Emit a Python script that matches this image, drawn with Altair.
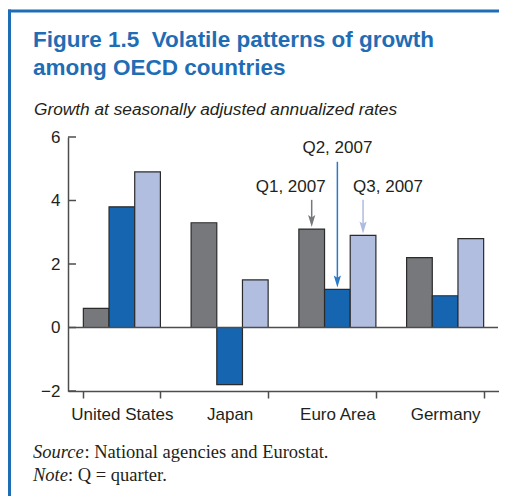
import altair as alt
import pandas as pd

# ---------------- data ----------------
countries = ["United States", "Japan", "Euro Area", "Germany"]
quarters = ["Q1, 2007", "Q2, 2007", "Q3, 2007"]
q1_values = [0.6, 3.3, 3.1, 2.2]
q2_values = [3.8, -1.8, 1.2, 1.0]
q3_values = [4.9, 1.5, 2.9, 2.8]
y_ticks = [-2, 0, 2, 4, 6]

bar_colors = ["#77787b", "#1565b0", "#b1bee0"]
arrow_colors = ["#77787b", "#2a7ac6", "#aebbe0"]

annot_country = "Euro Area"
annot_label_y = [4.26, 5.49, 4.26]
annot_arrow_top = [4.02, 5.22, 4.02]
annot_text_dx = [-21, 0, 25]
annot_arrow_dx = [0, 0, 3]

title_lines = ["Figure 1.5\u00a0 Volatile patterns of growth", "among OECD countries"]
subtitle = "Growth at seasonally adjusted annualized rates"
source_label = "Source"
source_text = ": National agencies and Eurostat."
note_label = "Note"
note_text = ": Q = quarter."

# ---------------- build ----------------
rows = []
for i, c in enumerate(countries):
    for q, vals in zip(quarters, [q1_values, q2_values, q3_values]):
        rows.append({"country": c, "quarter": q, "value": vals[i]})
df = pd.DataFrame(rows)

W, H = 431, 254
FONT = "Liberation Sans"
SERIF = "Liberation Serif"
AX = "#4d4d4f"
TXT = "#231f20"
BLUE = "#1f6db5"

x_scale = alt.Scale(paddingInner=0.285, paddingOuter=0.1425)
xo_scale = alt.Scale(paddingInner=0, paddingOuter=0)
y_scale = alt.Scale(domain=[-2, 6], nice=False)

x_axis = alt.Axis(
    title=None, labelAngle=0, labelFont=FONT, labelFontSize=17,
    labelColor=TXT, tickBand="extent", tickSize=7, tickColor=AX,
    tickWidth=1.5, domainColor=AX, domainWidth=1.5, labelPadding=8,
    grid=False)
y_axis = alt.Axis(
    title=None, values=y_ticks, ticks=False, labelPadding=8,
    labelFont=FONT, labelFontSize=17, labelColor=TXT,
    domainColor=AX, domainWidth=1.5, grid=False, format="d")


def X():
    return alt.X("country:N", sort=countries, scale=x_scale, title=None,
                 axis=x_axis)


def XO():
    return alt.XOffset("quarter:N", sort=quarters, scale=xo_scale)


def Y(field):
    return alt.Y(field, scale=y_scale, title=None, axis=y_axis)


bars = alt.Chart(df).mark_bar(stroke="#2b2b2b", strokeWidth=1.2).encode(
    x=X(),
    xOffset=XO(),
    y=Y("value:Q"),
    color=alt.Color("quarter:N", sort=quarters,
                    scale=alt.Scale(domain=quarters, range=bar_colors),
                    legend=None),
)

zero_line = alt.Chart(pd.DataFrame({"value": [0]})).mark_rule(
    color=AX, strokeWidth=1.5).encode(
    y=Y("value:Q"),
    x=alt.value(0), x2=alt.value(W - 1),
)

inner_ticks = alt.Chart(pd.DataFrame({"value": y_ticks})).mark_rule(
    color=AX, strokeWidth=1.5).encode(
    y=Y("value:Q"),
    x=alt.value(0), x2=alt.value(8),
)

layers = [bars, zero_line, inner_ticks]

for i, q in enumerate(quarters):
    vals = [q1_values, q2_values, q3_values][i]
    a = pd.DataFrame({
        "country": [annot_country], "quarter": [q],
        "value": [vals[countries.index(annot_country)]],
        "top": [annot_arrow_top[i]], "ly": [annot_label_y[i]], "label": [q],
    })
    shaft = alt.Chart(a).mark_rule(
        color=arrow_colors[i], strokeWidth=1.5, y2Offset=-8,
        xOffset=annot_arrow_dx[i]).encode(
        x=X(), xOffset=XO(), y=Y("top:Q"), y2="value:Q",
    )
    head = alt.Chart(a).mark_point(
        shape="M-1.2,-4L0,0L1.2,-4L0,-3.2Z", size=36, filled=True,
        opacity=1, strokeWidth=0, yOffset=-2, xOffset=annot_arrow_dx[i],
        color=arrow_colors[i]).encode(
        x=X(), xOffset=XO(), y=Y("value:Q"),
    )
    label = alt.Chart(a).mark_text(
        font=FONT, fontSize=17, color=TXT, baseline="alphabetic",
        align="center", dx=annot_text_dx[i]).encode(
        x=X(), xOffset=XO(), y=Y("ly:Q"), text="label:N",
    )
    layers += [shaft, head, label]


def fixed_text(txt, x, y, **kw):
    return alt.Chart(pd.DataFrame({"t": [txt]})).mark_text(
        align="left", baseline="alphabetic", **kw).encode(
        x=alt.value(x), y=alt.value(y), text="t:N")


layers += [
    fixed_text(title_lines[0], -35, -90, font=FONT, fontSize=22.5,
               fontWeight="bold", color=BLUE),
    fixed_text(title_lines[1], -35, -62, font=FONT, fontSize=22.5,
               fontWeight="bold", color=BLUE),
    fixed_text(subtitle, -34, -22, font=FONT, fontSize=17.3,
               fontStyle="italic", color=TXT),
    fixed_text(source_label, -35, 321, font=SERIF, fontSize=18.5,
               fontStyle="italic", color=TXT),
    fixed_text(source_text, 16.4, 321, font=SERIF, fontSize=18.5, color=TXT),
    fixed_text(note_label, -35, 344, font=SERIF, fontSize=18.5,
               fontStyle="italic", color=TXT),
    fixed_text(note_text, 0, 344, font=SERIF, fontSize=18.5, color=TXT),
]

# border
border_top = alt.Chart(pd.DataFrame({"b": [0]})).mark_rule(
    color=BLUE, strokeWidth=3).encode(
    x=alt.value(-60), x2=alt.value(W), y=alt.value(-126))
border_left = alt.Chart(pd.DataFrame({"b": [0]})).mark_rule(
    color=BLUE, strokeWidth=3).encode(
    x=alt.value(-58.5), y=alt.value(-127.5), y2=alt.value(359))
layers += [border_top, border_left]

chart = alt.layer(*layers).properties(
    width=W, height=H,
    autosize=alt.AutoSizeParams(type="none"),
    padding={"left": 60, "top": 129, "right": 0, "bottom": 105},
    background="white",
).configure_view(stroke=None)

chart.save("out.html", embed_options={"renderer": "svg", "actions": False})
